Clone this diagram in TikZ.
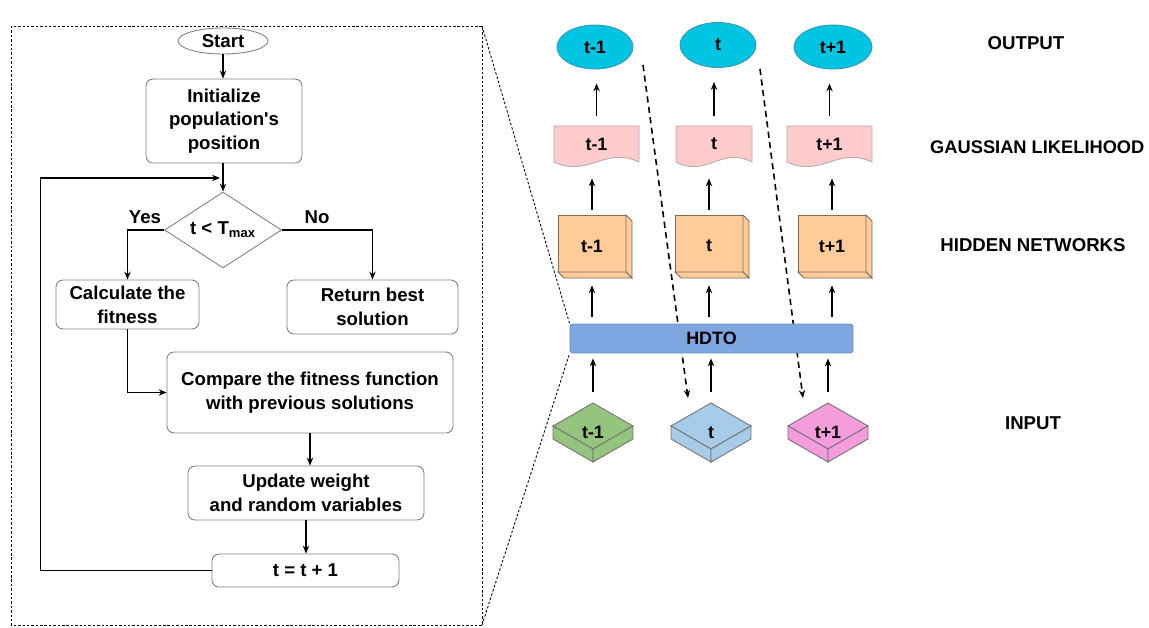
\documentclass[tikz,border=0pt]{standalone}
\usepackage{fontspec}
\setmainfont{Liberation Sans}
\usetikzlibrary{shapes.geometric,arrows.meta}
\definecolor{cyanE}{HTML}{00C5E2}
\definecolor{cyanB}{HTML}{3C97B0}
\definecolor{docF}{HTML}{FFCCCC}
\definecolor{docB}{HTML}{B8A8A8}
\definecolor{cubeF}{HTML}{FFCC99}
\definecolor{cubeB}{HTML}{7E6A58}
\definecolor{hdF}{HTML}{7EA6E0}
\definecolor{hdB}{HTML}{6C8EBF}
\definecolor{inG}{HTML}{94C47D}
\definecolor{inB}{HTML}{A8CCE8}
\definecolor{inP}{HTML}{F49CDC}
\definecolor{boxB}{HTML}{808080}
\newcommand\gdoc[4]{%
  \draw[docsh] (#2-#3,126) -- (#2+#3,126) -- (#2+#3,162)
    .. controls (#2+0.2*#3,146) and (#2-0.2*#3,178) .. (#2-#3,162) -- cycle;
  \node[lbl, minimum width=#3*0.04cm, minimum height=0.72cm] (#1) at (#2,144) {#4};}
\newcommand\hcube[3]{%
  \draw[cubesh] (#2-34,215) rectangle (#2+34,272);
  \draw[cubesh] (#2+34,215) -- (#2+40,221) -- (#2+40,278) -- (#2+34,272) -- cycle;
  \draw[cubesh] (#2-34,272) -- (#2+34,272) -- (#2+40,278) -- (#2-28,278) -- cycle;
  \node[lbl, minimum width=1.48cm, minimum height=1.24cm] (#1) at (#2,246) {#3};}
\newcommand\ibox[4]{%
  \draw[isosh, fill=#3] (#2,403) -- (#2+40,426) -- (#2,449) -- (#2-40,426) -- cycle;
  \draw[isosh, fill=#3] (#2-40,426) -- (#2,449) -- (#2,462) -- (#2-40,439) -- cycle;
  \draw[isosh, fill=#3] (#2,449) -- (#2+40,426) -- (#2+40,439) -- (#2,462) -- cycle;
  \node[lbl, minimum width=1.6cm, minimum height=1.18cm] (#1) at (#2,432.5) {#4};}
\tikzset{
  x=0.02cm, y=-0.02cm,
  txt/.style={font=\fontsize{10.6}{13.5}\selectfont\bfseries, align=center},
  lbl/.style={font=\fontsize{10.2}{12}\selectfont\bfseries, inner sep=0pt},
  fbox/.style={txt, draw=boxB, line width=0.5pt, rounded corners=0.14cm, fill=white, inner sep=1pt},
  arr/.style={line width=0.8pt, -{Stealth[length=4.5pt,width=3.6pt]}},
  dasharr/.style={line width=0.9pt, dash pattern=on 3.5pt off 2.5pt, -{Stealth[length=4.5pt,width=3.6pt]}},
  frame/.style={line width=0.5pt, dash pattern=on 1.4pt off 1.1pt},
  docsh/.style={draw=docB, fill=docF, line width=0.5pt},
  cubesh/.style={draw=cubeB, fill=cubeF, line width=0.5pt},
  isosh/.style={draw=black!55, line width=0.5pt},
}
\begin{document}
\begin{tikzpicture}
\useasboundingbox (0,0) rectangle (1149,628);
% ---------- flowchart ----------
\draw[frame] (11,26) rectangle (482,625);
\coordinate (bxt) at (482,26);
\coordinate (bxb) at (482,625);
\node[txt, draw=boxB, line width=0.5pt, ellipse, minimum width=1.8cm, minimum height=0.52cm, inner sep=0pt] (start) at (223,41) {Start};
\node[fbox, minimum width=3.12cm, minimum height=1.68cm] (init) at (224,121) {Initialize\\population\textquotesingle s\\position};
\node[txt, draw=boxB, line width=0.5pt, diamond, minimum width=2.34cm, minimum height=1.52cm, inner sep=0pt, shape aspect=1.54] (dec) at (223,230) {t < T\textsubscript{max}};
\node[fbox, minimum width=2.86cm, minimum height=0.98cm] (calc) at (127.5,304.5) {Calculate the\\fitness};
\node[fbox, minimum width=3.42cm, minimum height=1.08cm] (ret) at (372.5,307) {Return best\\solution};
\node[fbox, minimum width=5.72cm, minimum height=1.62cm] (cmp) at (310,392.5) {Compare the fitness function\\with previous solutions};
\node[fbox, minimum width=4.72cm, minimum height=1.08cm] (upd) at (306,493) {Update weight\\and random variables};
\node[fbox, minimum width=3.74cm, minimum height=0.66cm] (tt) at (305.5,570.5) {t = t + 1};
\node[txt] (yes) at (145,217) {Yes};
\node[txt] (no) at (317,217) {No};
\coordinate (loopend) at (220,178);
\draw[arr] (start.south) -- (start.south |- init.north);
\draw[arr] (init.south -| dec.north) -- (dec.north);
\draw[arr] (dec.west) -| (calc.north);
\draw[arr] (dec.east) -| (ret.north);
\draw[arr] (calc.south) |- (cmp.west);
\draw[arr] (cmp.south) -- (cmp.south |- upd.north);
\draw[arr] (upd.south) -- (upd.south |- tt.north);
\draw[arr] (tt.west) -- ++(-171,0) |- (loopend);
% ---------- right model ----------
\coordinate (da1s) at (643,65);
\coordinate (da1e) at (688,398);
\coordinate (da2s) at (760,69);
\coordinate (da2e) at (803,398);
\draw[dasharr] (da1s) -- (da1e);
\draw[dasharr] (da2s) -- (da2e);
\node[lbl, draw=cyanB, line width=0.5pt, fill=cyanE, ellipse, minimum width=1.52cm, minimum height=0.88cm] (o1) at (595,47) {t-1};
\node[lbl, draw=cyanB, line width=0.5pt, fill=cyanE, ellipse, minimum width=1.52cm, minimum height=0.9cm] (o2) at (718,45) {t};
\node[lbl, draw=cyanB, line width=0.5pt, fill=cyanE, ellipse, minimum width=1.56cm, minimum height=0.88cm] (o3) at (833,47) {t+1};
\gdoc{g1}{596.5}{42.5}{t-1}
\gdoc{g2}{714}{38}{t}
\gdoc{g3}{829.5}{42.5}{t+1}
\hcube{h1}{592}{t-1}
\hcube{h2}{709}{t}
\hcube{h3}{832}{t+1}
\node[lbl, draw=hdB, line width=0.5pt, fill=hdF, rounded corners=0.06cm, minimum width=5.66cm, minimum height=0.58cm] (hd) at (711.5,338.5) {HDTO};
\ibox{i1}{593}{inG}{t-1}
\ibox{i2}{711}{inB}{t}
\ibox{i3}{828}{inP}{t+1}
\draw[frame] (bxt) -- (hd.north west);
\draw[frame] (bxb) -- (hd.south west);
% arrows
\foreach \a/\b in {g1/o1,g2/o2,g3/o3}
  \draw[arr, shorten <=0.2cm, shorten >=0.28cm] (\a.north) -- (\a.north |- \b.south);
\foreach \a/\b in {h1/g1,h2/g2,h3/g3}
  \draw[arr, shorten <=0.1cm, shorten >=0.32cm] (\a.north) -- (\a.north |- \b.south);
\foreach \b in {h1,h2,h3}
  \draw[arr, shorten <=0.14cm, shorten >=0.16cm] (\b.south |- hd.north) -- (\b.south);
\foreach \a in {i1,i2,i3}
  \draw[arr, shorten <=0.22cm, shorten >=0.1cm] (\a.north) -- (\a.north |- hd.south);
% layer labels
\node[txt] (lo) at (1026,43) {OUTPUT};
\node[txt, anchor=west, font=\fontsize{10.4}{13}\selectfont\bfseries] (lg) at (924,147) {GAUSSIAN LIKELIHOOD};
\node[txt] (lh) at (1033,245) {HIDDEN NETWORKS};
\node[txt] (li) at (1033,423) {INPUT};
\end{tikzpicture}
\end{document}
